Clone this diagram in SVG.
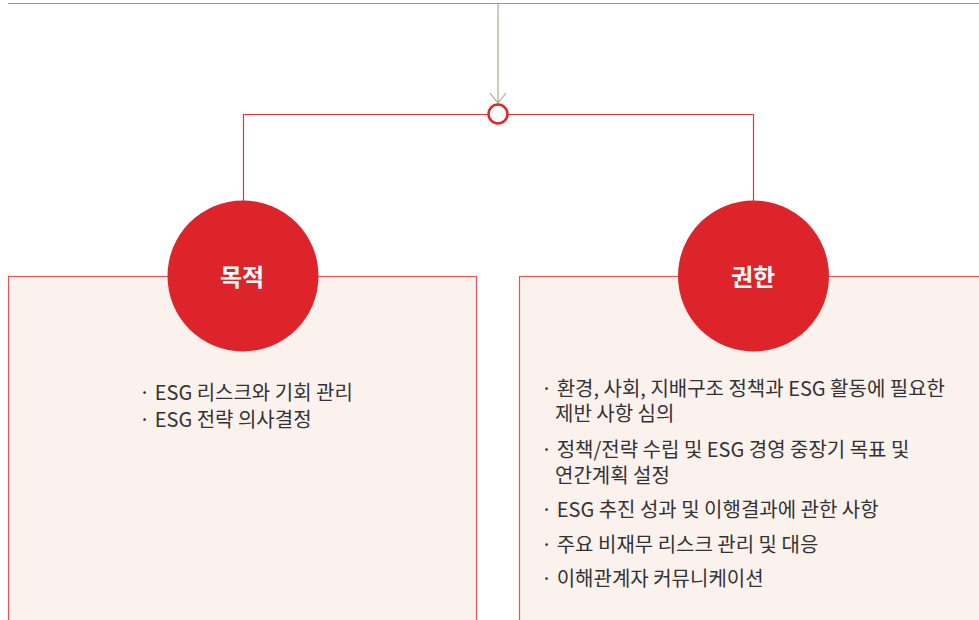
<svg xmlns="http://www.w3.org/2000/svg" width="979" height="620" viewBox="0 0 979 620">
<defs>
<style>
.box{fill:#fbf1ed;stroke:#e5565a;stroke-width:1.2}
.conn{fill:none;stroke:#e0363b;stroke-width:1.2}
.circ{fill:#dd242a}
.title{font-family:"Noto Sans CJK KR","Noto Sans",sans-serif;font-size:24px;font-weight:700;fill:#ffffff;text-anchor:middle}
.item{font-family:"Noto Sans CJK KR","Noto Sans",sans-serif;font-size:20px;fill:#333333}
</style>
</defs>
<rect width="979" height="620" fill="#ffffff"/>
<g id="connectors">
<line x1="8" y1="3.5" x2="979" y2="3.5" stroke="#a3957f" stroke-width="1.2"/>
<line x1="498" y1="3.5" x2="498" y2="103" stroke="#b3a58f" stroke-width="1.2"/>
<polyline points="490,93 498,103 506,93" fill="none" stroke="#b3a58f" stroke-width="1.2"/>
<polyline class="conn" points="243.5,201 243.5,114.5 753.5,114.5 753.5,201"/>
<circle cx="498" cy="114" r="9.5" fill="#ffffff" stroke="#e0252b" stroke-width="2.5"/>
</g>
<g id="node-purpose">
<rect class="box" x="8.5" y="276.5" width="468" height="350"/>
<circle class="circ" cx="243" cy="276" r="75.5"/>
<text class="title" x="242" y="286">목적</text>
<text class="item" x="139" y="400">· ESG 리스크와 기회 관리<tspan x="139" y="427">· ESG 전략 의사결정</tspan></text>
</g>
<g id="node-authority">
<rect class="box" x="519.5" y="276.5" width="470" height="350"/>
<circle class="circ" cx="753.5" cy="276" r="75.5"/>
<text class="title" x="753" y="286">권한</text>
<text class="item" x="541" y="396">· 환경, 사회, 지배구조 정책과 ESG 활동에 필요한<tspan x="555" y="421">제반 사항 심의</tspan></text>
<text class="item" x="541" y="457">· 정책/전략 수립 및 ESG 경영 중장기 목표 및<tspan x="555" y="483">연간계획 설정</tspan></text>
<text class="item" x="541" y="517">· ESG 추진 성과 및 이행결과에 관한 사항</text>
<text class="item" x="541" y="552">· 주요 비재무 리스크 관리 및 대응</text>
<text class="item" x="541" y="586">· 이해관계자 커뮤니케이션</text>
</g>
</svg>
